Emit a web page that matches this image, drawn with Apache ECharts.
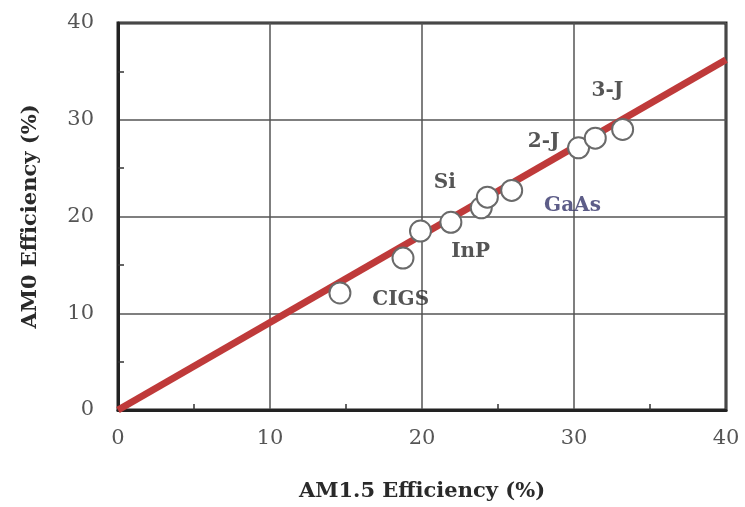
<!DOCTYPE html>
<html><head><meta charset="utf-8">
<script src="https://cdn.jsdelivr.net/npm/echarts@6/dist/echarts.min.js"></script>
<style>html,body{margin:0;padding:0;background:#fff}#c{width:745px;height:507px}</style>
</head><body><div id="c"></div>
<script>
// Data
const cellPoints = [
  [14.6, 12.1], [18.75, 15.7], [19.9, 18.5], [21.9, 19.4], [23.9, 20.9],
  [24.3, 22.0], [25.9, 22.7], [30.3, 27.1], [31.4, 28.1], [33.2, 29.0]
];
const fitLine = [[0, 0], [40, 36.2]];
const annotationNames = ['CIGS', 'InP', 'Si', 'GaAs', '2-J', '3-J'];
const annotationPos = [[18.6, 11.4], [23.2, 16.4], [21.5, 23.5], [29.9, 21.1], [28.0, 27.7], [32.2, 33.0]];
const annotationColors = ['#2a2a2a', '#2a2a2a', '#2a2a2a', '#35356a', '#2a2a2a', '#2a2a2a'];
const ticks = [0, 10, 20, 30, 40];

const serif = '"DejaVu Serif", "Liberation Serif", serif';
const chart = echarts.init(document.getElementById('c'));
const axisCommon = {
  type: 'value', min: 0, max: 40, interval: 10,
  axisLine: {show: true, lineStyle: {color: '#222', width: 3}},
  axisTick: {show: false, inside: true},
  minorTick: {show: true, splitNumber: 2, length: 6, lineStyle: {color: '#333', width: 1.5}},
  splitLine: {show: true, lineStyle: {color: '#555', width: 1.5}},
  axisLabel: {fontFamily: serif, fontSize: 21, color: '#555',
    formatter: v => ticks.includes(v) ? String(v) : ''},
  nameLocation: 'middle',
  nameTextStyle: {fontFamily: serif, fontSize: 21, fontWeight: 'bold', color: '#2a2a2a'}
};
chart.setOption({
  animation: false,
  grid: {left: 118, right: 19, top: 23, bottom: 96, show: true, borderColor: '#222', borderWidth: 3},
  xAxis: Object.assign({}, axisCommon, {
    name: 'AM1.5 Efficiency (%)', nameGap: 71,
    axisLabel: Object.assign({}, axisCommon.axisLabel, {margin: 18})
  }),
  yAxis: Object.assign({}, axisCommon, {
    name: 'AM0 Efficiency (%)', nameGap: 77,
    axisLabel: Object.assign({}, axisCommon.axisLabel, {margin: 24})
  }),
  series: [
    {type: 'line', data: fitLine, symbol: 'none', z: 2,
     lineStyle: {color: '#bf3a3a', width: 7}},
    {type: 'scatter', data: cellPoints, symbol: 'circle', symbolSize: 21, z: 3,
     itemStyle: {color: '#fff', opacity: 1, borderColor: '#6a6a6a', borderWidth: 2}},
    {type: 'scatter', symbolSize: 0, z: 4,
     data: annotationNames.map((n, i) => ({name: n, value: annotationPos[i],
       label: {show: true, formatter: n, position: 'inside', fontFamily: serif, fontSize: 20,
         color: annotationColors[i], fontWeight: 'bold'}}))}
  ]
});
</script></body></html>
